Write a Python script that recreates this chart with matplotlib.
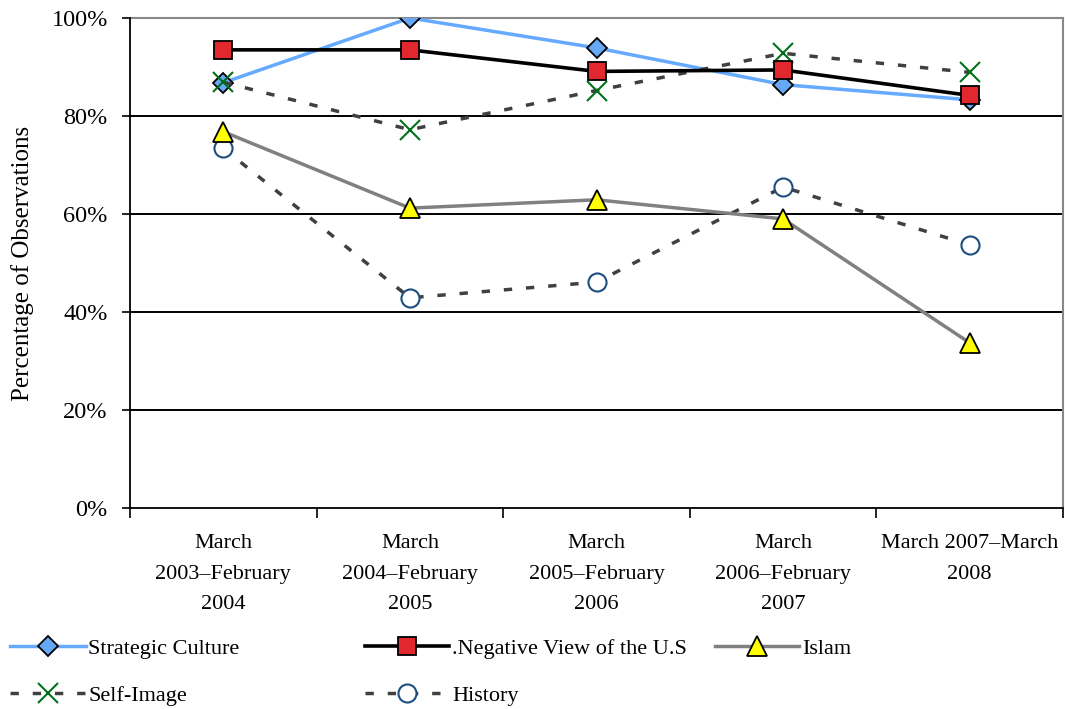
import matplotlib
matplotlib.use("Agg")
import matplotlib.pyplot as plt
import numpy as np

plt.rcParams['font.family'] = ['Liberation Serif', 'DejaVu Serif']
plt.rcParams['lines.scale_dashes'] = False

periods = ["March\n2003\u2013February\n2004", "March\n2004\u2013February\n2005",
           "March\n2005\u2013February\n2006", "March\n2006\u2013February\n2007",
           "March 2007\u2013March\n2008"]
strategic_culture = [86.8, 100.0, 93.9, 86.4, 83.3]
negative_view = [93.5, 93.5, 89.1, 89.4, 84.2]
islam = [76.8, 61.2, 62.9, 59.0, 33.7]
self_image = [86.9, 77.2, 85.2, 92.8, 88.9]
history = [73.4, 42.9, 46.1, 65.5, 53.7]
yticks = [0, 20, 40, 60, 80, 100]

fs = 16
x = np.arange(len(periods))

fig = plt.figure(figsize=(10.65, 7.09), dpi=100)
ax = fig.add_axes([130/1065, 1-508/709, 933/1065, 490/709])

for v in yticks[1:-1]:
    ax.axhline(v, color='black', lw=1.4, zorder=1)

dash = (0, (6, 10))
l_sc, = ax.plot(x, strategic_culture, color='#66AAFF', lw=2.5, marker='D', ms=10,
                mfc='#66A8F5', mec='black', mew=1.3, label='Strategic Culture', zorder=3)
l_hi, = ax.plot(x, history, color='#404040', lw=2.5, ls=dash, marker='o', ms=13,
                mfc='white', mec='#1C4E80', mew=1.5, label='History', zorder=3)
l_si, = ax.plot(x, self_image, color='#404040', lw=2.5, ls=dash, marker='x', ms=15,
                mec='#00701C', mew=1.5, label='Self-Image', zorder=4)
l_is, = ax.plot(x, islam, color='#808080', lw=2.5, marker='^', ms=14,
                mfc='#FFFF00', mec='black', mew=1.3, label='Islam', zorder=4)
l_nv, = ax.plot(x, negative_view, color='black', lw=2.6, marker='s', ms=13,
                mfc='#E0282E', mec='black', mew=1.3, label='.Negative View of the U.S', zorder=5)

ax.set_xlim(-0.5, 4.5)
ax.set_ylim(0, 100)
ax.set_yticks(yticks)
ax.set_yticklabels([f"{v}%" for v in yticks], fontsize=17.5)
ax.set_xticks(x)
ax.set_xticklabels(periods, fontsize=fs, linespacing=1.8)
ax.set_xticks(np.arange(-0.5, 5, 1), minor=True)
ax.tick_params(axis='x', which='major', length=0, pad=19)
ax.tick_params(axis='x', which='minor', length=7, width=1.2, direction='out')
ax.tick_params(axis='y', length=6, width=1.2, direction='out', pad=10)

for s in ['left', 'bottom']:
    ax.spines[s].set_color('black')
    ax.spines[s].set_linewidth(1.3)
for s in ['top', 'right']:
    ax.spines[s].set_color('#888888')
    ax.spines[s].set_linewidth(1.5)
ax.spines['top'].set_zorder(2)

ax.set_ylabel("Percentage of Observations", fontsize=18)
ax.yaxis.set_label_coords(-0.103, 0.5)

cols = [([l_sc, l_si], 10, 3.4), ([l_nv, l_hi], 365, 3.8), ([l_is], 715, 3.8)]
for handles, xpos, hl in cols:
    fig.legend(handles=handles, loc='upper left', bbox_to_anchor=(xpos/1065, 1-638/709),
               frameon=False, fontsize=fs, handlelength=hl, handletextpad=0.12,
               borderpad=0, borderaxespad=0, labelspacing=1.22)

fig.savefig("out.png", dpi=100)
